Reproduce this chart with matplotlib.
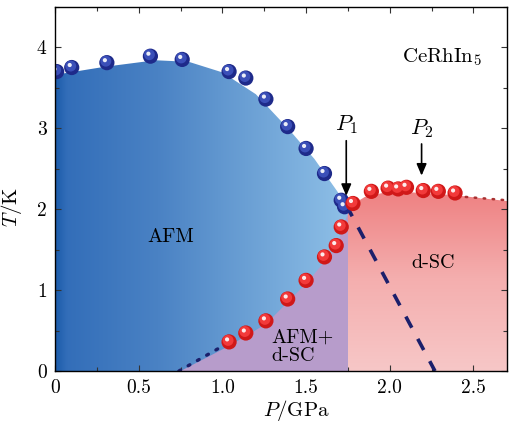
import numpy as np
import matplotlib
matplotlib.use("Agg")
import matplotlib.pyplot as plt
from matplotlib.colors import LinearSegmentedColormap
from matplotlib.patches import Polygon
from matplotlib.ticker import MultipleLocator
import matplotlib.transforms as mtransforms

plt.rcParams['font.family'] = 'serif'
plt.rcParams['font.serif'] = ['cmr10']
plt.rcParams['mathtext.fontset'] = 'cm'
plt.rcParams['axes.formatter.use_mathtext'] = True

# Neel temperature T_N (AFM), measured points
afm_p = [0.01, 0.10, 0.31, 0.57, 0.76, 1.04, 1.14, 1.26, 1.39, 1.50, 1.61, 1.71, 1.73]
afm_t = [3.70, 3.75, 3.81, 3.89, 3.85, 3.70, 3.62, 3.36, 3.02, 2.75, 2.44, 2.11, 2.03]

# superconducting T_c, measured points
sc_p = [1.04, 1.14, 1.26, 1.39, 1.50, 1.61, 1.68, 1.71, 1.78,
        1.89, 1.99, 2.05, 2.10, 2.20, 2.29, 2.39]
sc_t = [0.36, 0.47, 0.62, 0.89, 1.12, 1.41, 1.55, 1.78, 2.07,
        2.22, 2.26, 2.25, 2.27, 2.23, 2.22, 2.20]

# phase boundaries used for the shaded regions
afm_edge_p = [0.0, 0.3, 0.6, 0.8, 1.0, 1.2, 1.4, 1.55, 1.7, 1.75]
afm_edge_t = [3.66, 3.76, 3.84, 3.82, 3.69, 3.42, 2.98, 2.62, 2.18, 2.02]
coex_edge_p = [0.75, 1.04, 1.26, 1.50, 1.68, 1.75]
coex_edge_t = [0.0, 0.31, 0.58, 1.08, 1.52, 1.95]
sc_edge_p = [1.75, 1.85, 2.0, 2.2, 2.4, 2.7]
sc_edge_t = [2.02, 2.15, 2.22, 2.20, 2.17, 2.10]

p1 = 1.74
p2 = 2.19
tn_line_p = [1.74, 2.27]
tn_line_t = [2.05, 0.0]
tail_p = [0.74, 1.02]
tail_t = [0.0, 0.33]
sc_tail_p = [2.40, 2.70]
sc_tail_t = [2.16, 2.11]

fig = plt.figure(figsize=(5.09, 4.26), dpi=100)
ax = fig.add_axes([0.108, 0.129, 0.888, 0.855])
ax.set_xlim(0, 2.7)
ax.set_ylim(0, 4.5)

# AFM region, horizontal blue gradient
blue_cmap = LinearSegmentedColormap.from_list(
    'afm', [(0.0, '#1c5cab'), (0.04, '#336eb9'), (0.35, '#4a82c4'),
            (0.65, '#6a9fd4'), (1.0, '#8fc0e7')])
afm_poly = Polygon(list(zip([0.0] + afm_edge_p + [1.75], [0.0] + afm_edge_t + [0.0])),
                   closed=True, facecolor='none', edgecolor='none')
ax.add_patch(afm_poly)
grad = np.linspace(0, 1, 256).reshape(1, -1)
im = ax.imshow(grad, cmap=blue_cmap, extent=[0, 1.75, 0, 4.0], aspect='auto',
               origin='lower', zorder=1)
im.set_clip_path(afm_poly)

# coexistence region
coex_poly = Polygon(list(zip(coex_edge_p + [1.75], coex_edge_t + [0.0])),
                    closed=True, facecolor='#b79ccb', edgecolor='none', zorder=2)
ax.add_patch(coex_poly)

# d-SC region, vertical pink gradient
pink_cmap = LinearSegmentedColormap.from_list('sc', ['#f7c7c7', '#f4aeae', '#ee7d7e'])
sc_poly = Polygon(list(zip([1.75] + sc_edge_p + [2.7], [0.0] + sc_edge_t + [0.0])),
                  closed=True, facecolor='none', edgecolor='none')
ax.add_patch(sc_poly)
vgrad = np.linspace(0, 1, 256).reshape(-1, 1)
im2 = ax.imshow(vgrad, cmap=pink_cmap, extent=[1.75, 2.7, 0, 2.3], aspect='auto',
                origin='lower', zorder=1)
im2.set_clip_path(sc_poly)

ax.set_xlim(0, 2.7)
ax.set_ylim(0, 4.5)

# boundary lines
ax.plot(tn_line_p, tn_line_t, color='#1b1f6b', lw=2.6, dashes=(3.5, 3.5), zorder=3)
ax.plot(tail_p, tail_t, color='#1b1f6b', lw=2.4, linestyle=(0, (0.6, 2.6)),
        dash_capstyle='round', zorder=3)
ax.plot(sc_tail_p, sc_tail_t, color='#a83030', lw=1.8, linestyle=(0, (0.6, 3.0)),
        dash_capstyle='round', zorder=3)


def spheres(px, py, base, shade, zo):
    hl = ax.transData + mtransforms.ScaledTranslation(-2 / 100, 2.5 / 100, fig.dpi_scale_trans)
    mid = ax.transData + mtransforms.ScaledTranslation(-1 / 100, 1.5 / 100, fig.dpi_scale_trans)
    ax.scatter(px, py, s=120, color=shade, edgecolors='none', zorder=zo)
    ax.scatter(px, py, s=62, color=base, edgecolors='none', zorder=zo, transform=mid)
    ax.scatter(px, py, s=9, color='white', edgecolors='none', zorder=zo, transform=hl, alpha=0.9)


spheres(afm_p, afm_t, '#3b4fb8', '#1e2a8a', 5)
spheres(sc_p, sc_t, '#f23a3a', '#d01818', 6)

# arrows marking P1 and P2
ax.annotate('', xy=(p1, 2.13), xytext=(p1, 2.88),
            arrowprops=dict(arrowstyle='-|>,head_length=0.7,head_width=0.3', color='black', lw=1.2),
            zorder=7)
ax.annotate('', xy=(p2, 2.38), xytext=(p2, 2.84),
            arrowprops=dict(arrowstyle='-|>,head_length=0.7,head_width=0.3', color='black', lw=1.2),
            zorder=7)
ax.text(p1, 2.9, r'$P_1$', fontsize=16, ha='center', va='bottom', zorder=7)
ax.text(p2, 2.86, r'$P_2$', fontsize=16, ha='center', va='bottom', zorder=7)

ax.text(0.69, 1.66, 'AFM', fontsize=14.5, ha='center', va='center', zorder=7)
ax.text(2.26, 1.33, 'd-SC', fontsize=14.5, ha='center', va='center', zorder=7)
ax.text(1.29, 0.30, 'AFM+\nd-SC', fontsize=14.5, ha='left', va='center',
        linespacing=1.0, zorder=7)
ax.text(2.31, 3.88, r'$\mathrm{CeRhIn}_5$', fontsize=15, ha='center', va='center', zorder=7)

ax.set_xticks([0, 0.5, 1.0, 1.5, 2.0, 2.5])
ax.set_xticklabels(['0', '0.5', '1.0', '1.5', '2.0', '2.5'])
ax.set_yticks([0, 1, 2, 3, 4])
ax.set_yticklabels(['0', '1', '2', '3', '4'])
ax.xaxis.set_minor_locator(MultipleLocator(0.25))
ax.yaxis.set_minor_locator(MultipleLocator(0.5))
ax.tick_params(which='both', direction='in', top=True, right=True,
               labelsize=14, width=0.8, color='#333333', zorder=8)
ax.tick_params(which='major', length=4, pad=6)
ax.tick_params(which='minor', length=3)
for s in ax.spines.values():
    s.set_linewidth(1.0)
    s.set_zorder(9)

ax.set_xlabel(r'$P/\mathrm{GPa}$', fontsize=15)
ax.set_ylabel(r'$T/\mathrm{K}$', fontsize=15)
ax.xaxis.set_label_coords(0.535, -0.075)
ax.yaxis.set_label_coords(-0.068, 0.45)

fig.savefig('out.png', dpi=100)
